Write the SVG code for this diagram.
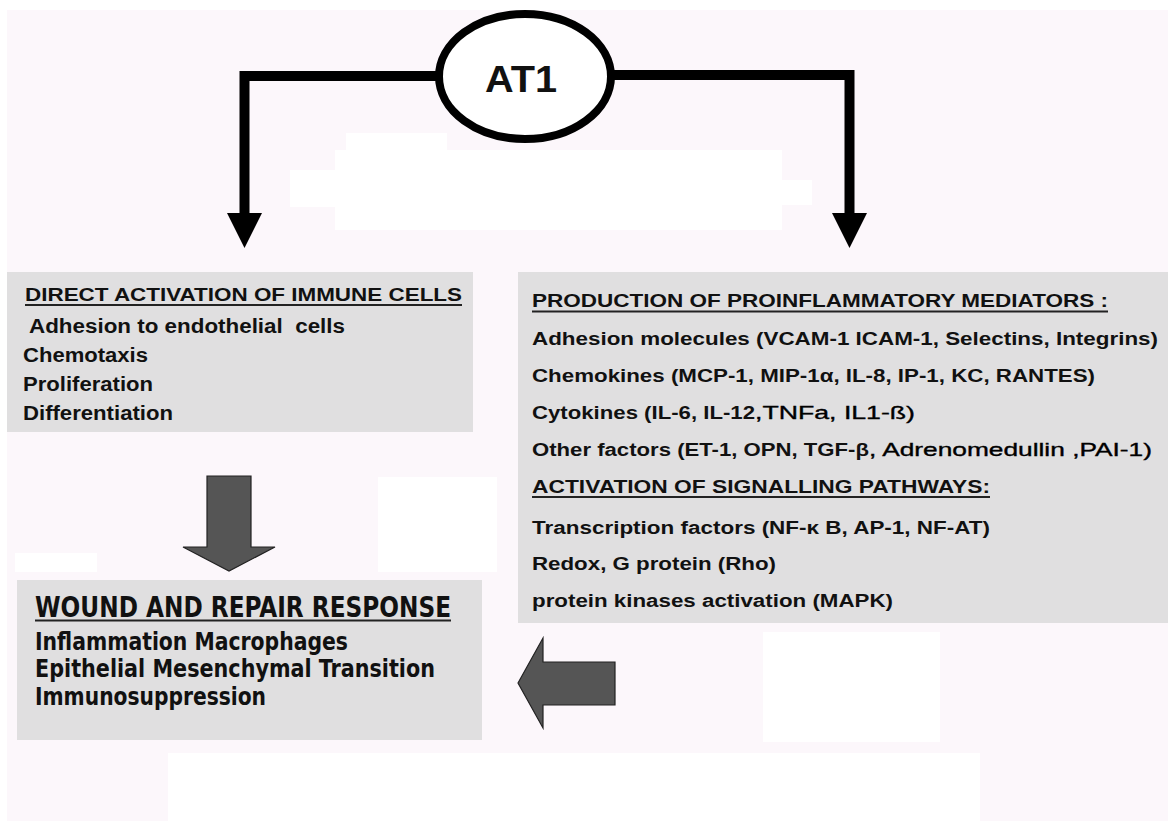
<svg xmlns="http://www.w3.org/2000/svg" width="1168" height="821" viewBox="0 0 1168 821">
<style>
.t{font-family:"Liberation Sans",Arial,Helvetica,sans-serif;font-weight:bold;fill:#111}
.l{font-size:20px}
.lh{font-size:18.5px}
.r{font-size:17.5px}
.r2{font-size:18.5px;font-weight:normal;fill:#000;stroke:#000;stroke-width:0.35px}
.b{font-family:"DejaVu Sans Condensed","Liberation Sans Narrow","Liberation Sans",sans-serif;font-weight:bold;fill:#111}
.bh{font-size:29px}
.bb{font-size:25px}
.box{fill:#e0dfe0}
.ul{stroke:#222;stroke-width:2}
.blk{fill:none;stroke:#000;stroke-width:10;stroke-linejoin:miter}
.gray{fill:#555;stroke:#222;stroke-width:1.2}
.wp{fill:#ffffff}
</style>
<defs>
<marker id="ah" markerUnits="userSpaceOnUse" markerWidth="36" markerHeight="36" refX="0" refY="17.5" orient="auto">
<path d="M0,0 L35,17.5 L0,35 z" fill="#000"/>
</marker>
</defs>
<rect width="1168" height="821" fill="#ffffff"/>
<rect x="7" y="10" width="1161" height="811" fill="#fcf7fb"/>
<path class="wp" d="M346,133 H447 V150 H782 V180 H812 V205 H782 V230 H335 V207 H290 V170 H335 V150 H346 Z"/>
<rect class="wp" x="378" y="477" width="119" height="95"/>
<rect class="wp" x="15" y="553" width="82" height="19"/>
<rect class="wp" x="763" y="632" width="177" height="110"/>
<rect class="wp" x="168" y="753" width="812" height="68"/>

<g id="connectors">
<path class="blk" d="M436,76 H244.5 V213" marker-end="url(#ah)"/>
<path class="blk" d="M614,75 H849.5 V213" marker-end="url(#ah)"/>
<polygon class="gray" points="207,476 251,476 251,547 275,547 229,571 183,547 207,547"/>
<polygon class="gray" points="518,683 543,638 543,662 615,662 615,705 543,705 543,728"/>
</g>

<g id="at1">
<ellipse cx="525" cy="76.5" rx="86" ry="62.5" fill="#ffffff" stroke="#000" stroke-width="8"/>
<text class="t" x="485" y="92" font-size="37" textLength="72" lengthAdjust="spacingAndGlyphs">AT1</text>
</g>

<g id="immune-cells">
<rect class="box" x="7" y="272" width="466" height="160"/>
<text class="t lh" x="25" y="301" textLength="437" lengthAdjust="spacingAndGlyphs">DIRECT ACTIVATION OF IMMUNE CELLS</text>
<line class="ul" x1="25" y1="305" x2="462" y2="305"/>
<text class="t l" x="29" y="333" textLength="316" lengthAdjust="spacingAndGlyphs" xml:space="preserve">Adhesion to endothelial  cells</text>
<text class="t l" x="23" y="362" textLength="125" lengthAdjust="spacingAndGlyphs">Chemotaxis</text>
<text class="t l" x="23" y="391" textLength="130" lengthAdjust="spacingAndGlyphs">Proliferation</text>
<text class="t l" x="23" y="420" textLength="150" lengthAdjust="spacingAndGlyphs">Differentiation</text>
</g>

<g id="mediators">
<rect class="box" x="518" y="272" width="650" height="351"/>
<text class="t r" x="532" y="307" textLength="576" lengthAdjust="spacingAndGlyphs">PRODUCTION OF PROINFLAMMATORY MEDIATORS :</text>
<line class="ul" x1="532" y1="311.5" x2="1108" y2="311.5"/>
<text class="t r" x="532" y="345" textLength="626" lengthAdjust="spacingAndGlyphs">Adhesion molecules (VCAM-1 ICAM-1, Selectins, Integrins)</text>
<text class="t r" x="532" y="382" textLength="563" lengthAdjust="spacingAndGlyphs">Chemokines (MCP-1, MIP-1α, IL-8, IP-1, KC, RANTES)</text>
<text class="t r" x="532" y="419" textLength="223" lengthAdjust="spacingAndGlyphs">Cytokines (IL-6, IL-12</text>
<text class="t r2" x="755" y="419" textLength="160" lengthAdjust="spacingAndGlyphs">,TNFa, IL1-ß)</text>
<text class="t r" x="532" y="456" textLength="337" lengthAdjust="spacingAndGlyphs">Other factors (ET-1, OPN, TGF-β</text>
<text class="t r2" x="869" y="456" textLength="283" lengthAdjust="spacingAndGlyphs">, Adrenomedullin ,PAI-1)</text>
<text class="t r" x="532" y="493" textLength="458" lengthAdjust="spacingAndGlyphs">ACTIVATION OF SIGNALLING PATHWAYS:</text>
<line class="ul" x1="532" y1="497" x2="990" y2="497"/>
<text class="t r" x="532" y="534" textLength="458" lengthAdjust="spacingAndGlyphs">Transcription factors (NF-κ B, AP-1, NF-AT)</text>
<text class="t r" x="532" y="570" textLength="244" lengthAdjust="spacingAndGlyphs">Redox, G protein (Rho)</text>
<text class="t r" x="532" y="607" textLength="361" lengthAdjust="spacingAndGlyphs">protein kinases activation (MAPK)</text>
</g>

<g id="wound-repair">
<rect class="box" x="17" y="580" width="465" height="160" fill="#e2e1e2"/>
<text class="b bh" x="35" y="617" textLength="416" lengthAdjust="spacingAndGlyphs">WOUND AND REPAIR RESPONSE</text>
<line class="ul" x1="35" y1="620.5" x2="451" y2="620.5"/>
<text class="b bb" x="35" y="650" textLength="313" lengthAdjust="spacingAndGlyphs">Inflammation Macrophages</text>
<text class="b bb" x="35" y="677" textLength="400" lengthAdjust="spacingAndGlyphs">Epithelial Mesenchymal Transition</text>
<text class="b bb" x="35" y="705" textLength="231" lengthAdjust="spacingAndGlyphs">Immunosuppression</text>
</g>
</svg>
